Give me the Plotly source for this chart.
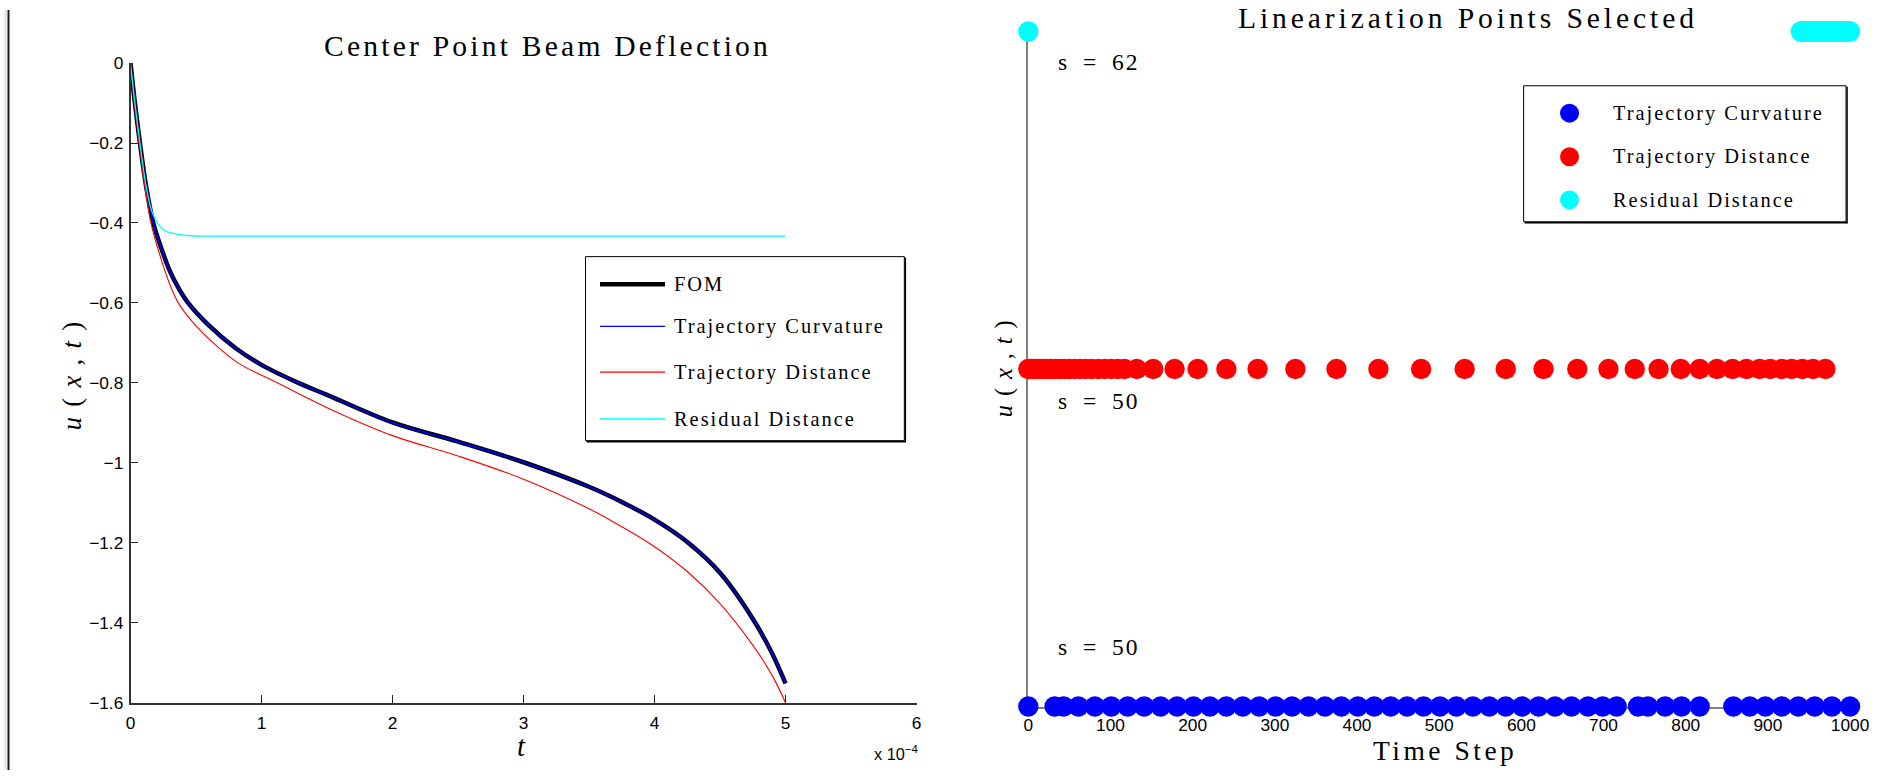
import plotly.graph_objects as go

W, H = 1893, 780

# ---------------- Left panel data (time in units of 1e-4) ----------------
t_fom = [0, 0.03, 0.072, 0.12, 0.174, 0.238, 0.3, 0.37, 0.44, 0.594, 0.798, 1.0, 1.281, 1.5, 2.0,
         2.5, 3.0, 3.5, 3.75, 4.0, 4.25, 4.5, 4.75, 4.9, 5.0]
u_fom = [0, -0.09, -0.2, -0.31, -0.4, -0.466, -0.52, -0.565, -0.6, -0.655, -0.712, -0.755, -0.8, -0.83, -0.899,
         -0.947, -0.9986, -1.06, -1.098, -1.142, -1.198, -1.275, -1.39, -1.478, -1.552]

t_curv = [0, 0.03, 0.072, 0.12, 0.174, 0.238, 0.3, 0.37, 0.44, 0.594, 0.798, 1.0, 1.281, 1.5, 2.0,
          2.5, 3.0, 3.5, 3.75, 4.0, 4.25, 4.5, 4.75, 4.9, 5.0]
u_curv = [0, -0.09, -0.2, -0.31, -0.4, -0.466, -0.52, -0.565, -0.6, -0.655, -0.712, -0.755, -0.8, -0.83, -0.899,
          -0.947, -0.9986, -1.06, -1.098, -1.142, -1.198, -1.275, -1.39, -1.478, -1.552]

t_dist = [0, 0.03, 0.07, 0.156, 0.243, 0.296, 0.365, 0.48, 0.632, 0.82, 1.12, 1.5, 2.0, 2.5, 3.0,
          3.5, 3.75, 4.0, 4.25, 4.5, 4.75, 4.9, 5.0]
u_dist = [0, -0.1, -0.21, -0.4, -0.5, -0.55, -0.6, -0.65, -0.7, -0.75, -0.8, -0.862, -0.932, -0.983, -1.041,
          -1.115, -1.16, -1.21, -1.272, -1.352, -1.456, -1.533, -1.6]

t_res = [0, 0.03, 0.072, 0.12, 0.162, 0.212, 0.263, 0.353, 0.467, 1.0, 2.5, 5.0]
u_res = [0, -0.09, -0.2, -0.31, -0.37, -0.403, -0.4195, -0.4277, -0.432, -0.433, -0.433, -0.433]

series_names = ["FOM", "Trajectory Curvature", "Trajectory Distance", "Residual Distance"]

x_ticks_left = [0, 1, 2, 3, 4, 5, 6]
y_ticks_left = [0, -0.2, -0.4, -0.6, -0.8, -1.0, -1.2, -1.4, -1.6]
y_ticktext_left = ["0", "\u22120.2", "\u22120.4", "\u22120.6", "\u22120.8", "\u22121", "\u22121.2", "\u22121.4", "\u22121.6"]

# ---------------- Right panel data (selected time steps) ----------------
steps_curv = [0, 32, 43, 61, 81, 101, 121, 141, 161, 181, 201, 221, 241, 261, 281, 301, 321, 341,
              361, 381, 401, 421, 441, 461, 481, 501, 521, 541, 561, 581, 601, 621, 641, 661, 681,
              699, 716, 742, 754, 775, 795, 817, 858, 878, 897, 917, 937, 957, 978, 1000]
steps_dist = [0, 3, 6, 10, 14, 18, 23, 28, 33, 38, 44, 50, 56, 63, 70, 77, 85, 93, 101, 109, 117,
              132, 152, 178, 206, 241, 279, 325, 375, 426, 478, 531, 581, 627, 668, 706, 738, 767,
              794, 817, 838, 857, 874, 890, 903, 917, 929, 942, 955, 970]
steps_res = [0, 940, 941, 942, 943, 944, 945, 946, 947, 948, 949, 950, 951, 952, 953, 954, 955, 956,
             957, 958, 959, 960, 961, 962, 963, 964, 965, 966, 967, 968, 969, 970, 971, 972, 973, 974,
             975, 976, 977, 978, 979, 980, 981, 982, 983, 984, 985, 986, 987, 988, 989, 990, 991, 992,
             993, 994, 995, 996, 997, 998, 999, 1000]
level_curv, level_dist, level_res = 1, 2, 3
count_labels = ["s = 50", "s = 50", "s = 62"]
x_ticks_right = [0, 100, 200, 300, 400, 500, 600, 700, 800, 900, 1000]

# ---------------- helpers: target picture pixels -> paper fractions ----------------
# (the photographed page comes out slightly shrunk, so positions are pre-compensated)
AX, BX = 0.9873, 5.0
AY, BY = 0.978, 8.45
FS = 1.02  # font/marker size compensation

def px(x):
    return ((x - BX) / AX) / W

def py(y):
    return 1 - ((y - BY) / AY) / H

def fs(s):
    return round(s * FS, 1)

SERIF = "Liberation Serif, Times New Roman, serif"
SANS = "Liberation Sans Narrow, Liberation Sans, Arial, sans-serif"

def spaced(text, sp):
    return '<span style="letter-spacing:%spx">%s</span>' % (sp, text)

fig = go.Figure()

common = dict(mode="lines", line_shape="spline", showlegend=False, hoverinfo="skip")
fig.add_trace(go.Scatter(x=t_fom, y=u_fom, name=series_names[0], line=dict(color="black", width=4.5, smoothing=1.0), xaxis="x", yaxis="y", **common))
fig.add_trace(go.Scatter(x=t_curv, y=u_curv, name=series_names[1], line=dict(color="#0000ff", width=1.6, smoothing=1.0), xaxis="x", yaxis="y", **common))
fig.add_trace(go.Scatter(x=t_dist, y=u_dist, name=series_names[2], line=dict(color="#ff0000", width=1.1, smoothing=1.0), xaxis="x", yaxis="y", **common))
fig.add_trace(go.Scatter(x=t_res, y=u_res, name=series_names[3], line=dict(color="#00ffff", width=1.3, smoothing=0.9), xaxis="x", yaxis="y", **common))

msize = fs(20)
mk = dict(mode="markers", showlegend=False, hoverinfo="skip", cliponaxis=False, xaxis="x2", yaxis="y2")
fig.add_trace(go.Scatter(x=steps_curv, y=[level_curv] * len(steps_curv), name=series_names[1], marker=dict(color="#0000ff", size=msize, line=dict(width=0)), **mk))
fig.add_trace(go.Scatter(x=steps_dist, y=[level_dist] * len(steps_dist), name=series_names[2], marker=dict(color="#ff0000", size=msize, line=dict(width=0)), **mk))
fig.add_trace(go.Scatter(x=steps_res, y=[level_res] * len(steps_res), name=series_names[3], marker=dict(color="#00ffff", size=msize, line=dict(width=0)), **mk))

shapes = []
ann = []

# left border of the figure window
shapes.append(dict(type="line", xref="paper", yref="paper", x0=px(8.5), x1=px(8.5), y0=0, y1=1, line=dict(color="#1a1a1a", width=2)))
shapes.append(dict(type="line", xref="paper", yref="paper", x0=px(5.5), x1=px(5.5), y0=0, y1=1, line=dict(color="#dcdcdc", width=2)))

# ---- left legend ----
lx0, lx1, ly0, ly1 = 585.5, 904.3, 256, 440.7
shapes.append(dict(type="rect", xref="paper", yref="paper", x0=px(lx0), x1=px(lx1), y0=py(ly1), y1=py(ly0), fillcolor="white", line=dict(color="black", width=1)))
shapes.append(dict(type="line", xref="paper", yref="paper", x0=px(lx1 + 1), x1=px(lx1 + 1), y0=py(ly1 + 1.5), y1=py(ly0 + 1), line=dict(color="black", width=1.5)))
shapes.append(dict(type="line", xref="paper", yref="paper", x0=px(lx0 + 1), x1=px(lx1 + 1.5), y0=py(ly1 + 1), y1=py(ly1 + 1), line=dict(color="black", width=1.5)))
leg_y = [283.7, 326, 372, 419]
leg_style = [("black", 4.5), ("#0000ff", 1.3), ("#ff0000", 1.3), ("#00ffff", 1.3)]
for name, yy, (c, w) in zip(series_names, leg_y, leg_style):
    shapes.append(dict(type="line", xref="paper", yref="paper", x0=px(600), x1=px(665), y0=py(yy), y1=py(yy), line=dict(color=c, width=w)))
    ann.append(dict(text=spaced(name, 2.0), x=px(672), y=py(yy), xref="paper", yref="paper", xanchor="left", yanchor="middle",
                    showarrow=False, font=dict(family=SERIF, size=fs(20), color="black")))

# ---- right legend ----
rx0, rx1, ry0, ry1 = 1523.6, 1846, 84.5, 221
shapes.append(dict(type="rect", xref="paper", yref="paper", x0=px(rx0), x1=px(rx1), y0=py(ry1), y1=py(ry0), fillcolor="white", line=dict(color="black", width=1)))
shapes.append(dict(type="line", xref="paper", yref="paper", x0=px(rx1 + 1), x1=px(rx1 + 1), y0=py(ry1 + 1.5), y1=py(ry0 + 1), line=dict(color="black", width=1.5)))
shapes.append(dict(type="line", xref="paper", yref="paper", x0=px(rx0 + 1), x1=px(rx1 + 1.5), y0=py(ry1 + 1), y1=py(ry1 + 1), line=dict(color="black", width=1.5)))
rleg_y = [112, 155.7, 199]
rleg_c = ["#0000ff", "#ff0000", "#00ffff"]
for name, yy, c in zip(series_names[1:], rleg_y, rleg_c):
    r = 9.5
    shapes.append(dict(type="circle", xref="paper", yref="paper", x0=px(1569.5 - r), x1=px(1569.5 + r), y0=py(yy + r), y1=py(yy - r),
                       fillcolor=c, line=dict(width=0)))
    ann.append(dict(text=spaced(name, 2.0), x=px(1611), y=py(yy), xref="paper", yref="paper", xanchor="left", yanchor="middle",
                    showarrow=False, font=dict(family=SERIF, size=fs(20), color="black")))

# ---- titles and labels ----
def add_text(text, x, y, size, xanchor="center", family=SERIF, angle=0, sp=0):
    ann.append(dict(text=spaced(text, sp) if sp else text, x=px(x), y=py(y), xref="paper", yref="paper",
                    xanchor=xanchor, yanchor="middle", showarrow=False, textangle=angle,
                    font=dict(family=family, size=fs(size), color="black")))

ulabel = "<i>u</i>\u2009(\u2009<i>x</i>\u2009,\u2009<i>t</i>\u2009)"
add_text("Center Point Beam Deflection", 547, 45, 29, sp=3.2)
add_text("Linearization Points Selected", 1468, 16, 29, sp=3.9)
add_text("<i>t</i>", 521.6, 748, 28)
add_text("x 10<sup>\u22124</sup>", 920, 754, 16, xanchor="right", family=SANS)
add_text(ulabel, 72, 375, 26, angle=-90, sp=2.5)
add_text(ulabel, 1004, 368, 24, angle=-90, sp=2)
add_text("Time Step", 1445, 752, 27, sp=3.5)
add_text(count_labels[2].replace(" ", "\u2002"), 1056, 61, 23, xanchor="left", sp=2)
add_text(count_labels[1].replace(" ", "\u2002"), 1056, 401, 23, xanchor="left", sp=2)
add_text(count_labels[0].replace(" ", "\u2002"), 1056, 648, 23, xanchor="left", sp=2)

fig.update_layout(
    width=W, height=H,
    margin=dict(l=0, r=0, t=0, b=0),
    paper_bgcolor="white", plot_bgcolor="rgba(0,0,0,0)",
    showlegend=False,
    shapes=shapes,
    annotations=ann,
    xaxis=dict(domain=[px(130.5), px(916.5)], range=[0, 6], tickvals=x_ticks_left, ticks="inside", ticklen=8,
               tickcolor="#222", showline=True, linecolor="#333", linewidth=1.5, showgrid=False, zeroline=False,
               tickfont=dict(family=SANS, size=fs(17), color="black"), ticklabelstandoff=4, anchor="y", fixedrange=True),
    yaxis=dict(domain=[py(703.7), py(61.7)], range=[-1.6, 0], tickvals=y_ticks_left, ticktext=y_ticktext_left,
               ticks="inside", ticklen=8, tickcolor="#222", showline=True, linecolor="#333", linewidth=1.5,
               showgrid=False, zeroline=False, tickfont=dict(family=SANS, size=fs(17), color="black"),
               ticklabelstandoff=2, anchor="x", fixedrange=True),
    xaxis2=dict(domain=[px(1028.3), px(1850)], range=[0, 1000], tickvals=x_ticks_right, ticks="inside", ticklen=8,
                tickcolor="#666", showline=True, linecolor="#808080", linewidth=1.5, showgrid=False, zeroline=False,
                tickfont=dict(family=SANS, size=fs(17), color="black"), ticklabelstandoff=2, anchor="y2",
                layer="below traces", fixedrange=True),
    yaxis2=dict(domain=[py(707.6), py(30)], range=[1, 3], showticklabels=False, ticks="", showline=True,
                linecolor="#808080", linewidth=1.5, showgrid=False, zeroline=False, anchor="x2",
                layer="below traces", fixedrange=True),
)

fig.write_html("out.html", config={"displayModeBar": False},
               post_script="document.body.style.margin='0';document.body.style.overflow='hidden';")
